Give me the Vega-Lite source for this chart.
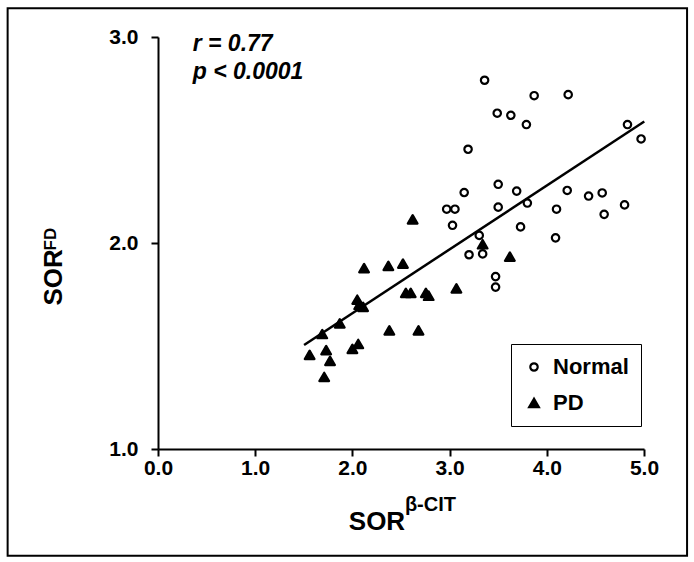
{
  "$schema": "https://vega.github.io/schema/vega-lite/v6.json",
  "width": 486,
  "height": 412,
  "autosize": {"type": "none"},
  "padding": {"left": 158, "top": 37, "right": 50, "bottom": 113},
  "background": "white",
  "config": {
    "view": {"stroke": null},
    "font": "Liberation Sans",
    "axis": {
      "grid": false,
      "domainColor": "black",
      "domainWidth": 2,
      "tickColor": "black",
      "tickWidth": 2,
      "tickSize": 7,
      "labelFlush": false,
      "labelFont": "Liberation Sans",
      "labelFontSize": 21,
      "labelFontWeight": "bold",
      "labelColor": "black",
      "title": null
    }
  },
  "datasets": {
    "points": [
      {"x": 3.36, "y": 2.79, "group": "Normal"},
      {"x": 3.87, "y": 2.715, "group": "Normal"},
      {"x": 4.22, "y": 2.72, "group": "Normal"},
      {"x": 3.49, "y": 2.63, "group": "Normal"},
      {"x": 3.63, "y": 2.62, "group": "Normal"},
      {"x": 3.79, "y": 2.575, "group": "Normal"},
      {"x": 4.83, "y": 2.575, "group": "Normal"},
      {"x": 4.97, "y": 2.505, "group": "Normal"},
      {"x": 3.19, "y": 2.455, "group": "Normal"},
      {"x": 3.15, "y": 2.245, "group": "Normal"},
      {"x": 3.50, "y": 2.285, "group": "Normal"},
      {"x": 3.69, "y": 2.252, "group": "Normal"},
      {"x": 4.21, "y": 2.255, "group": "Normal"},
      {"x": 4.43, "y": 2.228, "group": "Normal"},
      {"x": 4.57, "y": 2.243, "group": "Normal"},
      {"x": 3.80, "y": 2.194, "group": "Normal"},
      {"x": 3.50, "y": 2.174, "group": "Normal"},
      {"x": 4.10, "y": 2.164, "group": "Normal"},
      {"x": 4.80, "y": 2.185, "group": "Normal"},
      {"x": 4.59, "y": 2.139, "group": "Normal"},
      {"x": 2.97, "y": 2.164, "group": "Normal"},
      {"x": 3.055, "y": 2.164, "group": "Normal"},
      {"x": 3.03, "y": 2.086, "group": "Normal"},
      {"x": 3.73, "y": 2.078, "group": "Normal"},
      {"x": 3.305, "y": 2.037, "group": "Normal"},
      {"x": 4.09, "y": 2.025, "group": "Normal"},
      {"x": 3.20, "y": 1.943, "group": "Normal"},
      {"x": 3.34, "y": 1.947, "group": "Normal"},
      {"x": 3.473, "y": 1.837, "group": "Normal"},
      {"x": 3.473, "y": 1.786, "group": "Normal"},
      {"x": 2.62, "y": 2.115, "group": "PD"},
      {"x": 2.12, "y": 1.878, "group": "PD"},
      {"x": 2.37, "y": 1.889, "group": "PD"},
      {"x": 2.52, "y": 1.9, "group": "PD"},
      {"x": 3.34, "y": 1.994, "group": "PD"},
      {"x": 3.62, "y": 1.934, "group": "PD"},
      {"x": 2.55, "y": 1.758, "group": "PD"},
      {"x": 2.60, "y": 1.758, "group": "PD"},
      {"x": 2.756, "y": 1.758, "group": "PD"},
      {"x": 2.785, "y": 1.744, "group": "PD"},
      {"x": 3.07, "y": 1.78, "group": "PD"},
      {"x": 2.05, "y": 1.725, "group": "PD"},
      {"x": 2.07, "y": 1.70, "group": "PD"},
      {"x": 2.11, "y": 1.69, "group": "PD"},
      {"x": 1.87, "y": 1.61, "group": "PD"},
      {"x": 1.69, "y": 1.558, "group": "PD"},
      {"x": 2.38, "y": 1.576, "group": "PD"},
      {"x": 2.68, "y": 1.576, "group": "PD"},
      {"x": 1.56, "y": 1.457, "group": "PD"},
      {"x": 1.73, "y": 1.48, "group": "PD"},
      {"x": 1.77, "y": 1.428, "group": "PD"},
      {"x": 1.71, "y": 1.35, "group": "PD"},
      {"x": 2.00, "y": 1.486, "group": "PD"},
      {"x": 2.06, "y": 1.51, "group": "PD"}
    ],
    "fit": [
      {"x": 1.503, "y": 1.505},
      {"x": 5.003, "y": 2.59}
    ],
    "one": [{"k": 1}]
  },
  "layer": [
    {
      "data": {"name": "one"},
      "mark": {"type": "rect", "fill": null, "stroke": "black", "strokeWidth": 2},
      "encoding": {
        "x": {"datum": -1.547, "type": "quantitative"},
        "x2": {"datum": 5.443},
        "y": {"datum": 3.139, "type": "quantitative"},
        "y2": {"datum": 0.4815}
      }
    },
    {
      "data": {"name": "fit"},
      "mark": {"type": "line", "color": "black", "strokeWidth": 2.5},
      "encoding": {
        "x": {"field": "x", "type": "quantitative", "scale": {"domain": [0, 5], "nice": false, "zero": false}},
        "y": {"field": "y", "type": "quantitative", "scale": {"domain": [1, 3], "nice": false, "zero": false}}
      }
    },
    {
      "data": {"name": "points"},
      "mark": {"type": "point", "stroke": "black", "strokeWidth": 2.2, "strokeJoin": "round", "opacity": 1},
      "encoding": {
        "x": {
          "field": "x", "type": "quantitative",
          "scale": {"domain": [0, 5], "nice": false, "zero": false},
          "axis": {"values": [0, 1, 2, 3, 4, 5], "format": ".1f", "labelPadding": 1, "labelFlush": false, "title": null}
        },
        "y": {
          "field": "y", "type": "quantitative",
          "scale": {"domain": [1, 3], "nice": false, "zero": false},
          "axis": {"values": [1, 2, 3], "format": ".1f", "labelPadding": 13, "labelFlush": false, "title": null}
        },
        "shape": {
          "field": "group", "type": "nominal",
          "scale": {"domain": ["Normal", "PD"], "range": ["circle", "triangle-up"]},
          "legend": {
            "orient": "none", "legendX": 353, "legendY": 307, "title": null,
            "strokeColor": "black", "padding": 12,
            "labelFont": "Liberation Sans", "labelFontSize": 22, "labelFontWeight": "bold", "labelColor": "black",
            "rowPadding": 14, "labelOffset": 8,
            "symbolStrokeColor": "black", "symbolStrokeWidth": 2.2,
            "encode": {"legend": {"update": {"strokeWidth": {"value": 2}}}}
          }
        },
        "fill": {
          "field": "group", "type": "nominal",
          "scale": {"domain": ["Normal", "PD"], "range": ["white", "black"]}
        },
        "size": {
          "field": "group", "type": "nominal",
          "scale": {"domain": ["Normal", "PD"], "range": [55, 95]}
        }
      }
    },
    {
      "data": {"name": "one"},
      "mark": {"type": "text", "align": "left", "baseline": "middle", "font": "Liberation Sans", "fontSize": 23, "fontWeight": "bold", "fontStyle": "italic", "color": "black"},
      "encoding": {
        "x": {"datum": 0.357, "type": "quantitative"},
        "y": {"datum": 2.965, "type": "quantitative"},
        "text": {"value": "r = 0.77"}
      }
    },
    {
      "data": {"name": "one"},
      "mark": {"type": "text", "align": "left", "baseline": "middle", "font": "Liberation Sans", "fontSize": 23, "fontWeight": "bold", "fontStyle": "italic", "color": "black"},
      "encoding": {
        "x": {"datum": 0.357, "type": "quantitative"},
        "y": {"datum": 2.83, "type": "quantitative"},
        "text": {"value": "p < 0.0001"}
      }
    },
    {
      "data": {"name": "one"},
      "mark": {"type": "text", "align": "left", "baseline": "alphabetic", "font": "Liberation Sans", "fontSize": 26, "fontWeight": "bold", "color": "black"},
      "encoding": {
        "x": {"datum": 1.963, "type": "quantitative"},
        "y": {"datum": 0.608, "type": "quantitative"},
        "text": {"value": "SOR"}
      }
    },
    {
      "data": {"name": "one"},
      "mark": {"type": "text", "align": "left", "baseline": "alphabetic", "font": "Liberation Sans", "fontSize": 20, "fontWeight": "bold", "color": "black"},
      "encoding": {
        "x": {"datum": 2.54, "type": "quantitative"},
        "y": {"datum": 0.7, "type": "quantitative"},
        "text": {"value": "β-CIT"}
      }
    },
    {
      "data": {"name": "one"},
      "mark": {"type": "text", "align": "left", "baseline": "alphabetic", "angle": 270, "font": "Liberation Sans", "fontSize": 26, "fontWeight": "bold", "color": "black"},
      "encoding": {
        "x": {"datum": -0.991, "type": "quantitative"},
        "y": {"datum": 1.696, "type": "quantitative"},
        "text": {"value": "SOR"}
      }
    },
    {
      "data": {"name": "one"},
      "mark": {"type": "text", "align": "left", "baseline": "alphabetic", "angle": 270, "font": "Liberation Sans", "fontSize": 17, "fontWeight": "bold", "color": "black"},
      "encoding": {
        "x": {"datum": -1.05, "type": "quantitative"},
        "y": {"datum": 1.964, "type": "quantitative"},
        "text": {"value": "FD"}
      }
    }
  ]
}
